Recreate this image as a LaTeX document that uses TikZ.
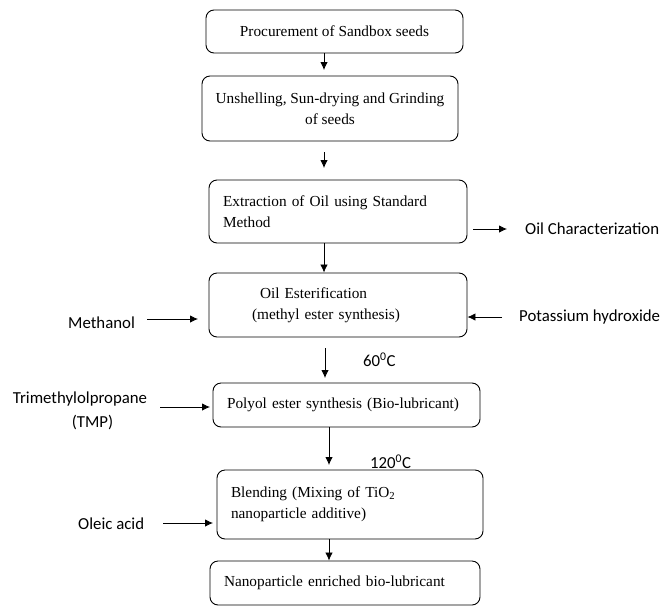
\documentclass[tikz,border=0pt]{standalone}
\usepackage{fontspec}
\setmainfont{Liberation Serif}
\newfontfamily\sidefont{Carlito}
\usetikzlibrary{arrows.meta}

\begin{document}
\begin{tikzpicture}[x=1pt, y=-1pt,
    box/.style={draw, rounded corners=8pt, line width=0.9pt, inner sep=0pt,
      font=\fontsize{15.3}{21}\selectfont},
    cbox/.style={box, align=center},
    lbox/.style={box, align=left, inner xsep=14pt},
    side/.style={inner sep=0pt, font=\sidefont\fontsize{16.8}{20}\selectfont},
    arr/.style={line width=0.8pt, -{Latex[length=8pt, width=7.5pt]}}]
  \useasboundingbox (0,0) rectangle (662,606);
  % process boxes
  \node[cbox, minimum width=257pt, minimum height=43pt] (proc) at (334.5,31.5)
    {Procurement of Sandbox seeds};
  \node[cbox, minimum width=256pt, minimum height=65pt] (grind) at (330,108.5)
    {Unshelling,  Sun-drying and Grinding\\of seeds};
  \node[lbox, text width=230pt, minimum height=63pt] (extr) at (338,211.5)
    {Extraction of Oil using Standard\\Method};
  \node[lbox, text width=230pt, minimum height=64pt] (ester) at (338,305)
    {\hspace*{37pt}Oil Esterification\\\hspace*{29pt}(methyl ester synthesis)};
  \node[lbox, text width=239pt, minimum height=44pt] (polyol) at (346.5,405)
    {Polyol ester synthesis (Bio-lubricant)};
  \node[lbox, text width=238pt, minimum height=69pt] (blend) at (350,504.5)
    {Blending (Mixing of TiO\textsubscript{2}\\nanoparticle additive)};
  \node[lbox, text width=242pt, minimum height=44pt] (nano) at (345,583)
    {Nanoparticle enriched bio-lubricant};
  % side inputs and labels
  \node[side, anchor=west] (char) at (525,229) {Oil Characterization};
  \node[side, anchor=west] (koh) at (519,317) {Potassium hydroxide};
  \node[side, anchor=west] (meoh) at (68,323) {Methanol};
  \node[side] (tmp) at (80,399) {Trimethylolpropane};
  \node[side] (tmpb) at (92.5,423) {(TMP)};
  \node[side, anchor=west] (oleic) at (78,524) {Oleic acid};
  \node[side, anchor=west] (t60) at (363,360) {60\textsuperscript{0}C};
  \node[side, anchor=west] (t120) at (370,462) {120\textsuperscript{0}C};
  % main line
  \coordinate (a1) at (324,70);
  \draw[arr] (proc.south -| a1) -- (a1);
  \coordinate (a2s) at (324,152);
  \coordinate (a2e) at (324,168);
  \draw[arr] (a2s) -- (a2e);
  \draw[arr] (extr.south -| a2s) -- (ester.north -| a2s);
  \coordinate (a4s) at (325,348);
  \coordinate (a4e) at (325,378);
  \draw[arr] (a4s) -- (a4e);
  \coordinate (a5) at (329,465);
  \draw[arr] (polyol.south -| a5) -- (a5);
  \draw[arr] (blend.south -| a5) -- (nano.north -| a5);
  % feeds
  \coordinate (c1) at (473,229);
  \coordinate (c2) at (507,229);
  \draw[arr] (c1) -- (c2);
  \coordinate (k1) at (502,317);
  \draw[arr] (k1) -- (k1 -| ester.east);
  \coordinate (m1) at (147,319);
  \coordinate (m2) at (198,319);
  \draw[arr] (m1) -- (m2);
  \coordinate (p1) at (160,407);
  \coordinate (p2) at (210,407);
  \draw[arr] (p1) -- (p2);
  \coordinate (o1) at (163,523);
  \coordinate (o2) at (213,523);
  \draw[arr] (o1) -- (o2);
\end{tikzpicture}
\end{document}
